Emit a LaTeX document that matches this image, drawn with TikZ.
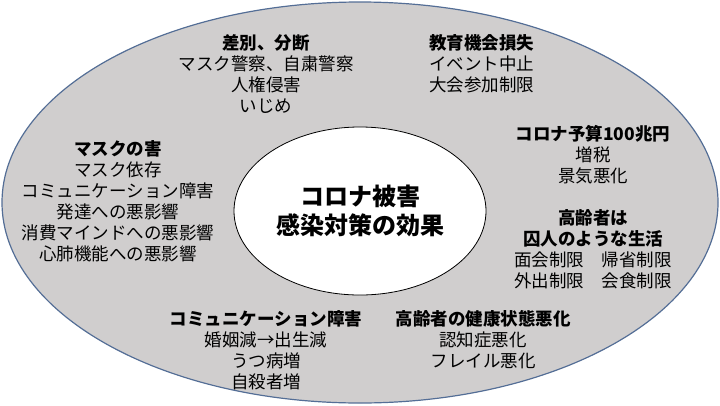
\documentclass[tikz,border=0pt]{standalone}
\usepackage{fontspec}
\newfontfamily\jp{Noto Sans CJK JP}
\usetikzlibrary{shapes.geometric}
\definecolor{outerfill}{RGB}{208,206,206}
\definecolor{outerline}{RGB}{84,110,150}
\tikzset{
  grp/.style={font=\jp\fontsize{17.5}{21}\selectfont, align=center, inner sep=0pt, text=black},
  ring/.style={ellipse, draw=outerline, line width=1.2pt, fill=outerfill, inner sep=0pt},
  corebox/.style={ellipse, draw=black, line width=0.8pt, fill=white, inner sep=0pt,
    font=\jp\bfseries\fontsize{24}{29}\selectfont, align=center}
}
\begin{document}
\begin{tikzpicture}[x=1pt,y=-1pt]
\useasboundingbox (0,0) rectangle (720,405);
\node[ring, minimum width=716pt, minimum height=401pt] (outer) at (360,202.5) {};
\node[corebox, minimum width=252pt, minimum height=168pt] (core) at (360,211) {コロナ被害\\感染対策の効果};
\node[grp] (discr) at (266,74.5) {\textbf{差別、分断}\\マスク警察、自粛警察\\人権侵害\\いじめ};
\node[grp, align=left, anchor=west] (edu) at (429,64) {\textbf{教育機会損失}\\イベント中止\\大会参加制限};
\node[grp] (budget) at (593,154.5) {\textbf{コロナ予算100兆円}\\増税\\景気悪化};
\node[grp] (elder) at (593,249) {\textbf{高齢者は}\\\textbf{囚人のような生活}\\面会制限　帰省制限\\外出制限　会食制限};
\node[grp] (mask) at (118,201) {\textbf{マスクの害}\\マスク依存\\コミュニケーション障害\\発達への悪影響\\消費マインドへの悪影響\\心肺機能への悪影響};
\node[grp] (comm) at (266,350) {\textbf{コミュニケーション障害}\\婚姻減→出生減\\うつ病増\\自殺者増};
\node[grp] (health) at (483,340) {\textbf{高齢者の健康状態悪化}\\認知症悪化\\フレイル悪化};
\end{tikzpicture}
\end{document}
